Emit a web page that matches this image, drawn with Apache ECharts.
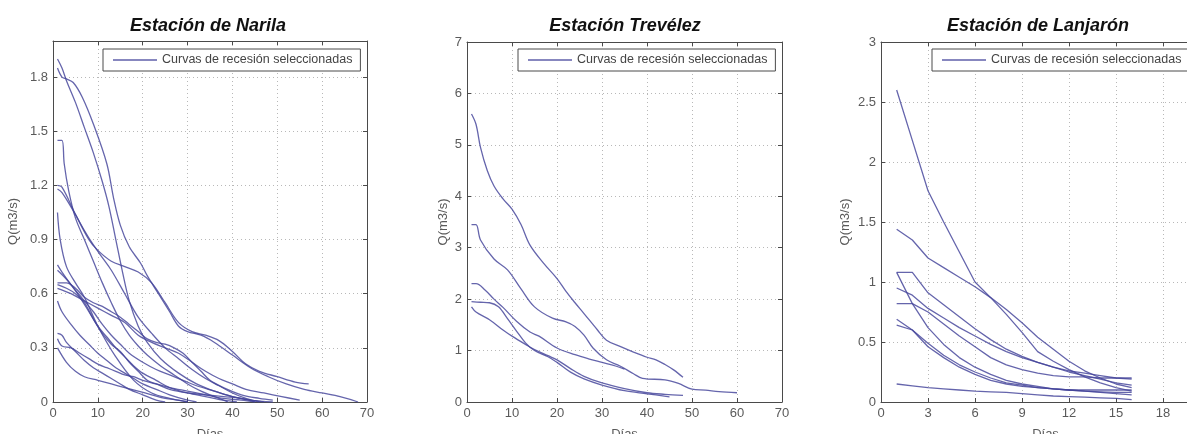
<!DOCTYPE html>
<html>
<head>
<meta charset="utf-8">
<script src="https://cdn.jsdelivr.net/npm/echarts@6/dist/echarts.min.js"></script>
<style>
  html, body { margin: 0; padding: 0; background: #fff; }
  #chart { width: 1187px; height: 434px; }
</style>
</head>
<body>
<div id="chart"></div>
<script>
// ---- labels ----
const seriesName = 'Curvas de recesión seleccionadas';
const panelTitles = ['Estación de Narila', 'Estación Trevélez', 'Estación de Lanjarón'];
const yAxisName = 'Q(m3/s)';
const xAxisName = 'Días';

// ---- Narila: recession curves, [day, Q m3/s] ----
const narilaA = [[1,1.9],[2,1.85],[3,1.78],[5,1.66],[7,1.52],[9,1.38],[11,1.22],[12.5,1.08],[14,0.9],[15.5,0.72],[17,0.56],[19,0.42],[21,0.33],[24,0.24],[28,0.16],[32,0.1],[36,0.06],[40,0.03],[44,0.01],[47,0]];
const narilaB = [[1,1.85],[2,1.8],[3,1.79],[4.5,1.77],[6.5,1.69],[9,1.54],[12,1.32],[13.5,1.13],[15,0.98],[17,0.86],[19.5,0.77],[21,0.7],[23.5,0.6],[26,0.5],[28,0.42],[30,0.39],[33,0.37],[36,0.33],[40,0.26],[44,0.19],[48,0.14],[52,0.1],[56,0.07],[60,0.05],[64,0.03],[68,0]];
const narilaC = [[1,1.45],[2,1.45],[2.5,1.32],[3.5,1.17],[5,1.02],[7,0.9],[9,0.78],[11,0.66],[13,0.55],[15,0.45],[17,0.37],[19,0.31],[21,0.26],[24,0.2],[27,0.15],[30,0.1],[33,0.06],[36,0.03],[39,0]];
const narilaD = [[1,1.2],[2,1.19],[5,1.04],[8,0.9],[10,0.84],[13,0.78],[16,0.75],[19,0.72],[22,0.66],[25,0.55],[28,0.44],[31,0.39],[34,0.37],[37,0.34],[40,0.28],[43,0.21],[46,0.17],[50,0.14],[54,0.11],[57,0.1]];
const narilaE = [[1,1.18],[2,1.16],[4.5,1.06],[7,0.95],[9,0.87],[11,0.8],[13,0.73],[16,0.6],[19,0.47],[22,0.38],[25,0.3],[28,0.24],[31,0.18],[34,0.13],[37,0.09],[40,0.05],[43,0.02],[46,0]];
const narilaF = [[1,1.05],[1.6,0.9],[3,0.75],[5,0.66],[7,0.58],[10,0.42],[14,0.25],[18,0.12],[22,0.05],[26,0.02],[30,0]];
const narilaG = [[1,0.76],[2,0.72],[4,0.65],[6,0.58],[8,0.5],[10,0.42],[12,0.36],[14,0.3],[16,0.25],[18,0.2],[20,0.16],[23,0.12],[26,0.08],[30,0.05],[34,0.03],[38,0.01],[41,0]];
const narilaH = [[1,0.73],[3,0.68],[5,0.62],[7,0.56],[9,0.5],[11,0.43],[13,0.37],[15,0.32],[17,0.27],[20,0.22],[23,0.18],[26,0.15],[29,0.12],[32,0.09],[36,0.06],[40,0.03],[44,0.01],[49,0]];
const narilaI = [[1,0.66],[3,0.66],[5,0.63],[7,0.58],[9,0.55],[11,0.53],[13,0.5],[15,0.47],[17,0.43],[19,0.39],[21,0.35],[23,0.33],[25,0.32],[27,0.3],[29,0.27],[31,0.22],[33,0.17],[35,0.12],[38,0.08],[42,0.04],[46,0.02],[49,0.01]];
const narilaJ = [[1,0.65],[3,0.63],[5,0.6],[7,0.55],[9,0.46],[11,0.38],[13,0.32],[15,0.28],[17,0.22],[19,0.17],[21,0.12],[23,0.1],[26,0.07],[30,0.05],[34,0.04],[38,0.03],[42,0.02],[45,0]];
const narilaK = [[1,0.63],[4,0.6],[7,0.56],[10,0.52],[13,0.48],[16,0.44],[19,0.37],[22,0.33],[25,0.3],[28,0.27],[31,0.22],[34,0.17],[37,0.13],[40,0.1],[43,0.07],[47,0.05],[51,0.03],[55,0.01]];
const narilaL = [[1,0.56],[2,0.5],[4,0.43],[6,0.37],[8,0.32],[10,0.27],[12,0.23],[14,0.19],[16,0.16],[18,0.13],[20,0.1],[23,0.07],[26,0.04],[30,0.01],[32,0]];
const narilaM = [[1,0.38],[2,0.37],[3,0.33],[5,0.28],[7,0.23],[9,0.19],[11,0.16],[13,0.13],[15,0.1],[17,0.07],[20,0.04],[23,0.01],[25,0]];
const narilaN = [[1,0.35],[2,0.31],[4,0.3],[6,0.27],[8,0.24],[10,0.21],[12,0.19],[14,0.17],[16,0.15],[18,0.14],[20,0.12],[23,0.1],[26,0.08],[30,0.06],[34,0.04],[38,0.02],[42,0.01],[45,0]];
const narilaO = [[1,0.3],[3,0.22],[5,0.17],[7,0.14],[10,0.12],[13,0.1],[16,0.08],[19,0.06],[22,0.04],[25,0.02],[28,0.01],[30,0]];

// ---- Trevélez: recession curves, [day, Q m3/s] ----
const trevelezA = [[1,5.6],[2,5.4],[3,4.95],[4.5,4.5],[6,4.2],[8,3.95],[10,3.75],[12,3.45],[14,3.05],[17,2.7],[20,2.4],[22,2.15],[24,1.93],[26,1.72],[29,1.4],[31,1.2],[34,1.08],[37,0.97],[40,0.87],[42,0.82],[44,0.73],[46,0.62],[48,0.48]];
const trevelezB = [[1,3.45],[2,3.45],[3,3.15],[6,2.78],[9,2.57],[12,2.2],[15,1.85],[19,1.63],[22,1.56],[24,1.47],[26,1.3],[28,1.05],[31,0.82],[34,0.7],[37,0.55],[39,0.46],[44,0.43],[47,0.36],[50,0.25],[53,0.23],[56,0.2],[60,0.18]];
const trevelezC = [[1,2.3],[2,2.3],[4,2.18],[6,2.0],[8,1.84],[11,1.57],[14,1.36],[16,1.28],[20,1.05],[24,0.92],[27,0.84],[30,0.77],[33,0.7],[35,0.64]];
const trevelezD = [[1,1.95],[3,1.94],[5,1.93],[7,1.85],[9,1.62],[11,1.38],[13,1.15],[15,1.0],[18,0.88],[20,0.77],[23,0.58],[26,0.45],[30,0.33],[35,0.22],[40,0.16],[45,0.1]];
const trevelezE = [[1,1.85],[2,1.75],[5,1.6],[8,1.4],[10,1.28],[13,1.12],[15,1.02],[18,0.9],[20,0.82],[23,0.65],[26,0.5],[30,0.37],[35,0.26],[40,0.18],[44,0.15],[48,0.13]];

// ---- Lanjarón: daily recession curves, Q m3/s for days 1..16 ----
const lanjaronDays = [1,2,3,4,5,6,7,8,9,10,11,12,13,14,15,16];
const lanjaronA = [2.6,2.18,1.76,1.5,1.25,1.0,0.87,0.73,0.58,0.42,0.34,0.27,0.21,0.16,0.12,0.09];
const lanjaronB = [1.44,1.35,1.2,1.12,1.04,0.96,0.87,0.77,0.66,0.54,0.44,0.34,0.26,0.2,0.15,0.12];
const lanjaronC = [1.08,1.08,0.91,0.81,0.71,0.61,0.52,0.44,0.38,0.33,0.29,0.26,0.24,0.22,0.2,0.19];
const lanjaronD = [1.08,0.82,0.62,0.48,0.37,0.29,0.23,0.18,0.15,0.13,0.11,0.1,0.09,0.08,0.07,0.06];
const lanjaronE = [0.95,0.89,0.78,0.7,0.62,0.55,0.48,0.42,0.37,0.33,0.29,0.25,0.22,0.19,0.16,0.14];
const lanjaronF = [0.82,0.82,0.75,0.65,0.55,0.46,0.37,0.31,0.27,0.24,0.22,0.21,0.21,0.2,0.2,0.2];
const lanjaronG = [0.69,0.6,0.46,0.37,0.29,0.23,0.18,0.15,0.13,0.12,0.11,0.1,0.09,0.085,0.08,0.08];
const lanjaronH = [0.64,0.6,0.49,0.39,0.31,0.25,0.2,0.16,0.14,0.12,0.11,0.1,0.1,0.1,0.1,0.1];
const lanjaronI = [0.15,0.135,0.12,0.11,0.1,0.09,0.085,0.08,0.07,0.06,0.05,0.045,0.04,0.035,0.03,0.02];

// ---- axis ranges and tick steps ----
const xRanges = [[0, 70, 10], [0, 70, 10], [0, 21, 3]];
const yRanges = [[0, 2.0, 0.3], [0, 7, 1], [0, 3, 0.5]];

const panelCurves = [
  [narilaA, narilaB, narilaC, narilaD, narilaE, narilaF, narilaG, narilaH, narilaI, narilaJ, narilaK, narilaL, narilaM, narilaN, narilaO],
  [trevelezA, trevelezB, trevelezC, trevelezD, trevelezE],
  [lanjaronA, lanjaronB, lanjaronC, lanjaronD, lanjaronE, lanjaronF, lanjaronG, lanjaronH, lanjaronI]
    .map(q => lanjaronDays.map((d, k) => [d, q[k]]))
];

// ---- layout ----
const grids = [
  { left: 53,  top: 41, width: 314, height: 361, outerBoundsMode: 'none' },
  { left: 467, top: 42, width: 315, height: 360, outerBoundsMode: 'none' },
  { left: 881, top: 42, width: 329, height: 360, outerBoundsMode: 'none' }
];
const yNameGaps = [33, 17, 29];
const legendPos = [{ left: 103, top: 49 }, { left: 518, top: 49 }, { left: 932, top: 49 }];
const titlePos = [203, 620, 1033];

const FONT = 'Liberation Sans, Arial, sans-serif';
const AXIS_COLOR = '#4a4a4a';
const LABEL_COLOR = '#5a5a5a';
const GRID_COLOR = '#b8b8b8';
const CURVE_COLOR = '#43439a';

const xAxes = [], yAxes = [], series = [], titles = [], legends = [];

grids.forEach((g, i) => {
  const [xmin, xmax, xstep] = xRanges[i];
  const [ymin, ymax, ystep] = yRanges[i];
  const tick = { show: true, inside: true, length: 4, lineStyle: { color: AXIS_COLOR } };
  const line = { show: true, onZero: false, lineStyle: { color: AXIS_COLOR, width: 1 } };

  // bottom axis with labels and dotted grid
  xAxes.push({
    type: 'value', gridIndex: i, position: 'bottom', min: xmin, max: xmax, interval: xstep,
    name: xAxisName, nameLocation: 'middle', nameGap: 26,
    nameTextStyle: { fontFamily: FONT, fontSize: 13, color: LABEL_COLOR },
    axisLine: line, axisTick: tick,
    axisLabel: { fontFamily: FONT, fontSize: 13, color: LABEL_COLOR, margin: 5 },
    splitLine: { show: true, lineStyle: { type: [1, 3], color: GRID_COLOR, width: 1 } }
  });
  // top axis: frame + inner ticks
  xAxes.push({
    type: 'value', gridIndex: i, position: 'top', min: xmin, max: xmax, interval: xstep,
    axisLine: line, axisTick: tick, axisLabel: { show: false }, splitLine: { show: false }
  });
  // left axis with labels and dotted grid
  yAxes.push({
    type: 'value', gridIndex: i, position: 'left', min: ymin, max: ymax, interval: ystep,
    name: yAxisName, nameLocation: 'middle', nameGap: yNameGaps[i], nameRotate: 90,
    nameTextStyle: { fontFamily: FONT, fontSize: 13, color: LABEL_COLOR },
    axisLine: line, axisTick: tick,
    axisLabel: { fontFamily: FONT, fontSize: 13, color: LABEL_COLOR, margin: 5, showMaxLabel: i !== 0 },
    splitLine: { show: true, lineStyle: { type: [1, 3], color: GRID_COLOR, width: 1 } }
  });
  // right axis: frame + inner ticks
  yAxes.push({
    type: 'value', gridIndex: i, position: 'right', min: ymin, max: ymax, interval: ystep,
    axisLine: line, axisTick: tick, axisLabel: { show: false }, splitLine: { show: false }
  });

  panelCurves[i].forEach(curve => {
    series.push({
      type: 'line', name: seriesName, xAxisIndex: 2 * i, yAxisIndex: 2 * i,
      data: curve, symbol: 'none', smooth: i < 2 ? 0.35 : false,
      lineStyle: { color: CURVE_COLOR, width: 1.3, opacity: 0.82 },
      itemStyle: { color: CURVE_COLOR },
      emphasis: { disabled: true }, silent: true, animation: false
    });
  });

  titles.push({
    text: panelTitles[i], left: titlePos[i], top: 12, textAlign: 'center',
    textStyle: { fontFamily: FONT, fontSize: 18, fontWeight: 'bold', fontStyle: 'italic', color: '#111' }
  });

  // legend: plain line sample inside a framed box
  legends.push({
    data: [seriesName], left: legendPos[i].left, top: legendPos[i].top,
    orient: 'horizontal', padding: [4, 8, 4, 10], icon: 'rect', itemWidth: 44, itemHeight: 1.3, itemGap: 5,
    itemStyle: { color: CURVE_COLOR, opacity: 0.85 },
    borderColor: AXIS_COLOR, borderWidth: 1, backgroundColor: '#fff', borderRadius: 0,
    selectedMode: false,
    textStyle: { fontFamily: FONT, fontSize: 12.5, color: '#444', lineHeight: 14 }
  });
});

const chart = echarts.init(document.getElementById('chart'), null, { renderer: 'canvas' });
chart.setOption({
  animation: false,
  backgroundColor: '#fff',
  title: titles,
  legend: legends,
  grid: grids,
  xAxis: xAxes,
  yAxis: yAxes,
  series: series
});
</script>
</body>
</html>
